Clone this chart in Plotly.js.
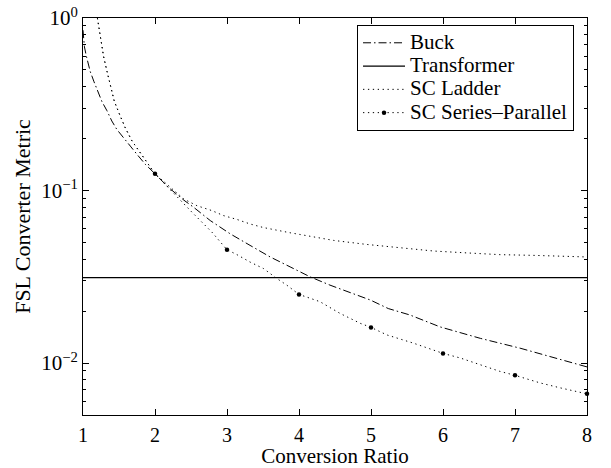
<!DOCTYPE html>
<html>
<head>
<meta charset="utf-8">
<script src="https://cdn.plot.ly/plotly-3.0.1.min.js"></script>
<style>html,body{margin:0;padding:0;background:#fff;}</style>
</head>
<body>
<div id="chart" style="width:611px;height:468px;"></div>
<script>
// ---- data ----
const buckX = [1.0, 1.02, 1.045, 1.1, 1.15, 1.2, 1.264, 1.333, 1.40, 1.47, 1.54, 1.657, 1.75, 1.865, 2.0, 2.19, 2.4, 2.536, 2.767, 3.045, 3.32, 3.60, 3.877, 4.155, 4.43, 4.71, 4.99, 5.24, 5.54, 5.96, 6.52, 7.07, 7.63, 8.0];
const buckY = [0.85, 0.68, 0.605, 0.49, 0.43, 0.385, 0.327, 0.29, 0.253, 0.226, 0.207, 0.181, 0.162, 0.142, 0.125, 0.104, 0.088, 0.080, 0.067, 0.0561, 0.0481, 0.0412, 0.0361, 0.0316, 0.0283, 0.0257, 0.0232, 0.0207, 0.0190, 0.0162, 0.0139, 0.0122, 0.01055, 0.0095];

const transformerX = [1, 8];
const transformerY = [0.0313, 0.0313];

const ladderX = [1.2, 1.217, 1.23, 1.268, 1.286, 1.333, 1.379, 1.434, 1.508, 1.587, 1.68, 1.795, 2.0, 2.4, 2.582, 2.79, 2.95, 3.138, 3.32, 3.507, 3.693, 3.877, 4.016, 4.25, 4.48, 4.94, 5.40, 5.87, 6.33, 6.79, 7.25, 7.90, 8.0];
const ladderY = [1.0, 0.911, 0.816, 0.684, 0.598, 0.491, 0.411, 0.330, 0.276, 0.231, 0.194, 0.166, 0.125, 0.0893, 0.0817, 0.0765, 0.0716, 0.0680, 0.0640, 0.0610, 0.0587, 0.0569, 0.0556, 0.0537, 0.0514, 0.0487, 0.0464, 0.0446, 0.0435, 0.0425, 0.0421, 0.0415, 0.0412];

const spX = [1.2, 1.217, 1.23, 1.268, 1.286, 1.333, 1.379, 1.434, 1.508, 1.587, 1.68, 1.795, 2.0, 2.513, 2.652, 2.79, 3.0, 3.138, 3.32, 3.507, 3.693, 3.83, 4.0, 4.29, 4.57, 4.85, 5.0, 5.22, 5.59, 6.0, 6.24, 6.52, 6.79, 7.0, 7.35, 7.63, 7.90, 8.0];
const spY = [1.0, 0.911, 0.816, 0.684, 0.598, 0.491, 0.411, 0.330, 0.276, 0.231, 0.194, 0.166, 0.125, 0.0749, 0.0656, 0.0574, 0.0454, 0.0425, 0.0385, 0.0353, 0.0309, 0.0283, 0.025, 0.0227, 0.0194, 0.0170, 0.0161, 0.01456, 0.01304, 0.01138, 0.0107, 0.00977, 0.00895, 0.00849, 0.00767, 0.00718, 0.00678, 0.00663];

const xTicks = [1, 2, 3, 4, 5, 6, 7, 8];
const yTickVals = [1, 0.1, 0.01];
const yTickText = ['10<sup>0</sup>', '10<sup>\u22121</sup>', '10<sup>\u22122</sup>'];
const seriesNames = ['Buck', 'Transformer', 'SC Ladder', 'SC Series\u2013Parallel'];

// ---- derived ----
const spMarkX = [], spMarkY = [];
spX.forEach((x, i) => { if (Number.isInteger(x)) { spMarkX.push(x); spMarkY.push(spY[i]); } });
const yMinor = [];
[0.001, 0.01, 0.1].forEach(d => { for (let k = 2; k <= 9; k++) yMinor.push(+(k * d).toPrecision(3)); });

const FONT = 'Liberation Serif, Times New Roman, serif';
const dotDash = '1.3px,3.6px';
const big = s => '<span style="font-size:21px">' + s + '</span>';

const traces = [
  {x: buckX, y: buckY, name: big(seriesNames[0]), mode: 'lines',
   line: {color: '#000', width: 1, dash: '8px,3px,1.5px,3px'}},
  {x: transformerX, y: transformerY, name: big(seriesNames[1]), mode: 'lines',
   line: {color: '#000', width: 1.2}},
  {x: ladderX, y: ladderY, name: big(seriesNames[2]), mode: 'lines',
   line: {color: '#000', width: 1, dash: dotDash}},
  {x: spX, y: spY, name: seriesNames[3], mode: 'lines', showlegend: false,
   line: {color: '#000', width: 1, dash: dotDash}},
  {x: spMarkX, y: spMarkY, name: seriesNames[3], mode: 'markers', showlegend: false,
   cliponaxis: false, marker: {color: '#000', size: 4.5}},
  {x: [null], y: [null], name: big(seriesNames[3]), mode: 'lines+markers',
   line: {color: '#000', width: 1, dash: dotDash}, marker: {color: '#000', size: 4.5}}
];

const axisCommon = {
  showline: true, linecolor: '#000', linewidth: 1, mirror: 'ticks',
  ticks: 'inside', ticklen: 6, tickcolor: '#000', tickwidth: 1,
  showgrid: false, zeroline: false,
  tickfont: {family: FONT, size: 21, color: '#000'}
};

const layout = {
  width: 611, height: 468,
  margin: {l: 83, r: 24, t: 18, b: 53},
  paper_bgcolor: '#fff', plot_bgcolor: '#fff',
  font: {family: FONT, size: 21, color: '#000'},
  xaxis: Object.assign({}, axisCommon, {
    range: [1, 8], tickmode: 'array', tickvals: xTicks, ticktext: xTicks.map(String),
    tickfont: {family: FONT, size: 20, color: '#000'}, ticklabelstandoff: 2,
    title: {text: 'Conversion Ratio', font: {family: FONT, size: 21, color: '#000'}, standoff: 0}
  }),
  yaxis: Object.assign({}, axisCommon, {
    type: 'log', range: [Math.log10(0.005), 0],
    tickmode: 'array', tickvals: yTickVals, ticktext: yTickText,
    minor: {tickmode: 'array', tickvals: yMinor, ticks: 'inside', ticklen: 3, tickcolor: '#000'},
    title: {text: 'FSL Converter Metric', font: {family: FONT, size: 22, color: '#000'}, standoff: 4}
  }),
  legend: {
    x: 0.5437, y: 0.982, xanchor: 'left', yanchor: 'top',
    bgcolor: '#fff', bordercolor: '#000', borderwidth: 1,
    font: {family: FONT, size: 15.6, color: '#000'},
    tracegroupgap: 0, itemwidth: 42
  },
  showlegend: true
};

Plotly.newPlot('chart', traces, layout, {staticPlot: true, displayModeBar: false});
</script>
</body>
</html>
